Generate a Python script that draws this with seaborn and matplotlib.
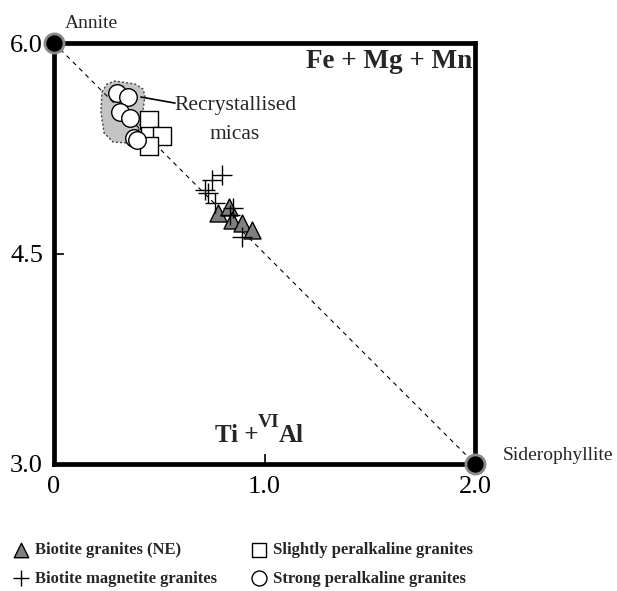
import numpy as np
import matplotlib
matplotlib.use("Agg")
import matplotlib.pyplot as plt
import seaborn as sns
from matplotlib.patches import Polygon

# ---------------- data ----------------
strong_x = [0.298, 0.352, 0.314, 0.361, 0.380, 0.394]
strong_y = [5.642, 5.615, 5.508, 5.466, 5.323, 5.309]

slight_x = [0.450, 0.456, 0.512, 0.451]
slight_y = [5.453, 5.340, 5.337, 5.268]

bio_ne_x = [0.779, 0.831, 0.846, 0.893, 0.941]
bio_ne_y = [4.789, 4.831, 4.739, 4.717, 4.667]

bio_mag_x = [0.797, 0.749, 0.717, 0.732, 0.765, 0.850, 0.836, 0.892]
bio_mag_y = [5.059, 5.024, 4.952, 4.931, 4.860, 4.824, 4.774, 4.620]

end_x = [0.0, 2.0]
end_y = [6.0, 3.0]
end_names = ["Annite", "Siderophyllite"]

field_x = [0.228, 0.252, 0.290, 0.385, 0.423, 0.432, 0.418, 0.399, 0.352, 0.280, 0.238, 0.223]
field_y = [5.651, 5.708, 5.729, 5.708, 5.672, 5.622, 5.466, 5.366, 5.287, 5.295, 5.359, 5.508]

leader_x = [0.413, 0.575]
leader_y = [5.615, 5.572]

x_ticks = [0.0, 1.0, 2.0]
x_ticklabels = ["0", "1.0", "2.0"]
y_ticks = [3.0, 4.5, 6.0]
y_ticklabels = ["3.0", "4.5", "6.0"]

labels = ["Biotite granites (NE)", "Biotite magnetite granites",
          "Slightly peralkaline granites", "Strong peralkaline granites"]

# ---------------- style ----------------
sns.set_style("white")
plt.rcParams["font.family"] = ["Liberation Serif", "DejaVu Serif"]

fig = plt.figure(figsize=(6.17, 5.91), dpi=100)
ax = fig.add_axes([0.0875, 0.2149, 0.6824, 0.7123])

# recrystallised field
ax.add_patch(Polygon(np.column_stack([field_x, field_y]), closed=True,
                     facecolor="#c4c4c4", edgecolor="#444444",
                     linestyle=(0, (1.5, 1.5)), linewidth=1.0, zorder=1))

# annite - siderophyllite join
sns.lineplot(x=end_x, y=end_y, ax=ax, color="black", linewidth=0.8,
             linestyle=(0, (4, 4)), zorder=2)

# data series
sns.scatterplot(x=slight_x, y=slight_y, ax=ax, marker="s", s=150,
                color="white", edgecolor="black", linewidth=1.0,
                label=labels[2], zorder=3)
sns.scatterplot(x=strong_x, y=strong_y, ax=ax, marker="o", s=160,
                color="white", edgecolor="black", linewidth=1.0,
                label=labels[3], zorder=4)
sns.scatterplot(x=bio_ne_x, y=bio_ne_y, ax=ax, marker="^", s=150,
                color="#7f7f7f", edgecolor="black", linewidth=1.0,
                label=labels[0], zorder=3)
sns.scatterplot(x=bio_mag_x, y=bio_mag_y, ax=ax, marker="+", s=200,
                color="black", linewidth=1.0,
                label=labels[1], zorder=4)

# end members
sns.scatterplot(x=end_x, y=end_y, ax=ax, marker="o", s=190,
                color="black", edgecolor="#8a8a8a", linewidth=2.0,
                clip_on=False, zorder=6, legend=False)

ax.plot(leader_x, leader_y, color="black", linewidth=1.2, zorder=5)

# axes
ax.set_xlim(0, 2)
ax.set_ylim(3, 6)
ax.set_xticks(x_ticks)
ax.set_xticklabels(x_ticklabels)
ax.set_yticks(y_ticks)
ax.set_yticklabels(y_ticklabels)
ax.tick_params(axis="both", direction="in", length=7, width=1.2,
               labelsize=19, colors="black", bottom=True, left=True)
ax.tick_params(axis="x", pad=9)
ax.tick_params(axis="y", pad=8)
for sp in ax.spines.values():
    sp.set_linewidth(3.4)
    sp.set_color("black")
ax.set_xlabel("")
ax.set_ylabel("")

# annotations
ax.annotate(end_names[0], xy=(end_x[0], end_y[0]), xytext=(8, 11),
            textcoords="offset points", ha="left", va="baseline",
            fontsize=14, annotation_clip=False)
ax.annotate(end_names[1], xy=(end_x[1], end_y[1]), xytext=(20, 3),
            textcoords="offset points", ha="left", va="baseline",
            fontsize=14, annotation_clip=False)
ax.text(0.994, 0.941, "Fe + Mg + Mn", transform=ax.transAxes, ha="right",
        va="baseline", fontsize=19.5, fontweight="bold")

# x-axis title "Ti + VIAl" placed next to the 1.0 tick
ti_anchor = (1.0, 3.157)
ax.annotate("Ti +", xy=ti_anchor, xytext=(-4.5, 0), textcoords="offset points",
            ha="right", va="baseline", fontsize=18, fontweight="bold")
ax.annotate("VI", xy=ti_anchor, xytext=(-5, 11), textcoords="offset points",
            ha="left", va="baseline", fontsize=14, fontweight="bold")
ax.annotate("Al", xy=ti_anchor, xytext=(10, 0), textcoords="offset points",
            ha="left", va="baseline", fontsize=18, fontweight="bold")

ax.text(0.86, 5.45, "Recrystallised\nmicas", ha="center", va="center",
        fontsize=15.5, linespacing=1.75)

# legend (figure level, below the diagram)
h, l = ax.get_legend_handles_labels()
if ax.get_legend() is not None:
    ax.get_legend().remove()
order = [l.index(lbl) for lbl in labels]
fig.legend([h[i] for i in order], [l[i] for i in order],
           loc="upper left", bbox_to_anchor=(0.005, 0.094), ncol=2,
           frameon=False, prop={"weight": "bold", "size": 12},
           columnspacing=1.9, handletextpad=0.2, labelspacing=0.75,
           markerscale=0.85, handlelength=1.3, borderaxespad=0)

fig.savefig("out.png", dpi=100)
